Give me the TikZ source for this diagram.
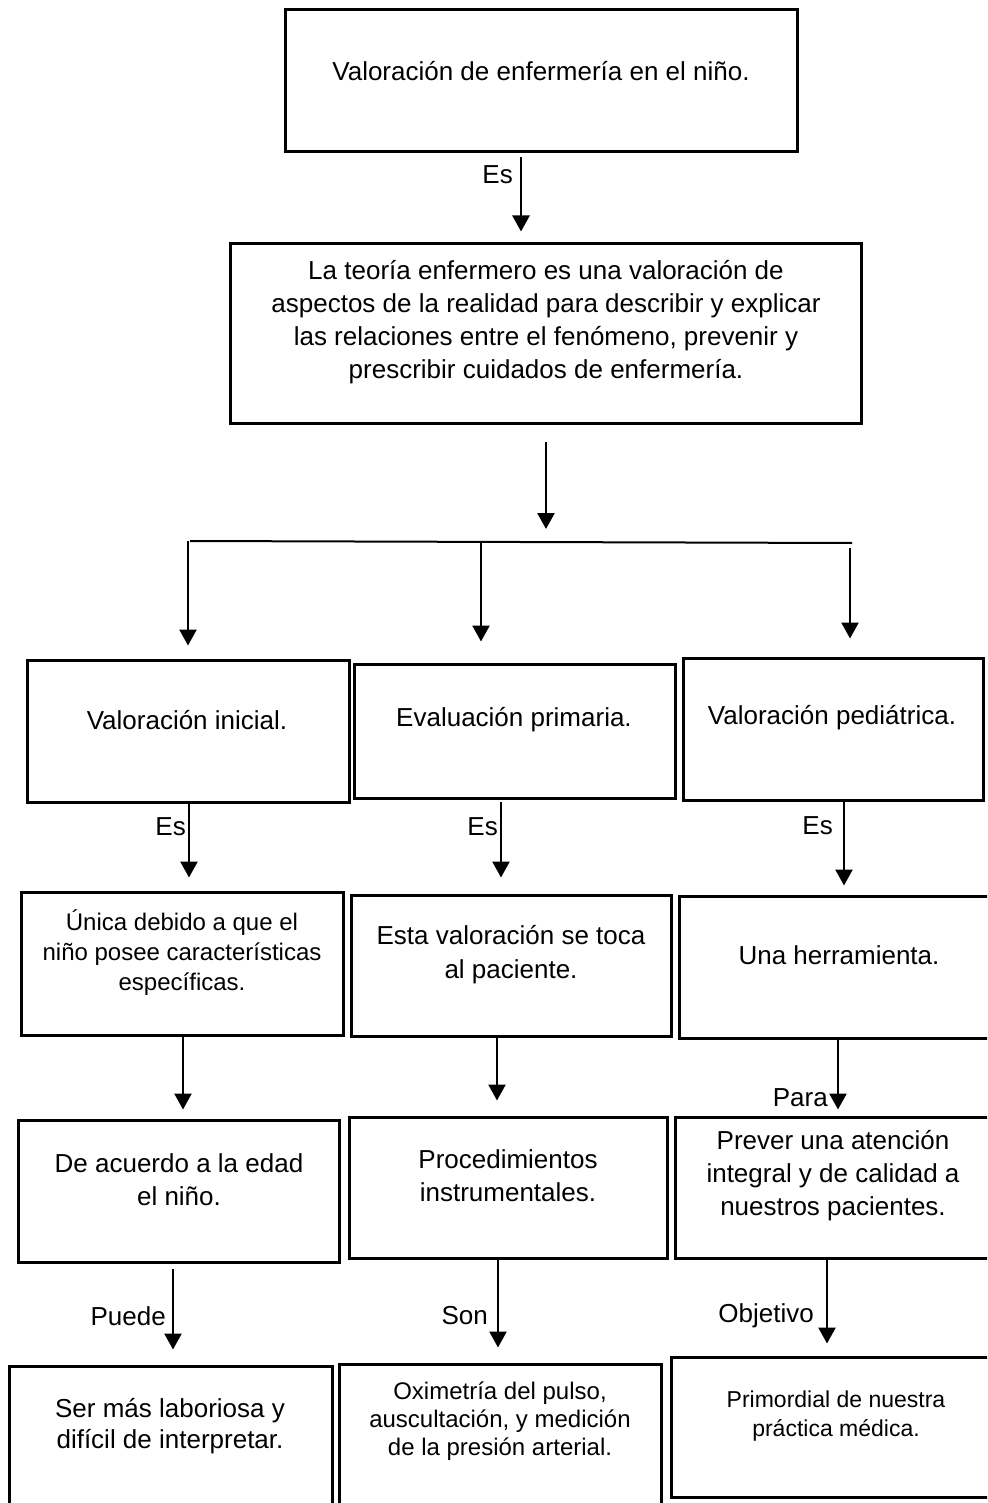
\documentclass[tikz,border=0pt]{standalone}
\usepackage{fontspec}
\setmainfont{Liberation Sans}
\usetikzlibrary{arrows.meta}
\begin{document}
\begin{tikzpicture}[x=1pt,y=-1pt,
  box/.style={draw=black, line width=3pt, inner sep=0pt},
  txt/.style={align=center, inner sep=0pt, text=black},
  big/.style={font=\fontsize{26}{33}\selectfont},
  lab/.style={anchor=east, inner sep=1pt, font=\fontsize{26}{31}\selectfont},
  arr/.style={draw=black, line width=2.5pt, -{Triangle[width=17pt,length=16pt]}},
  plain/.style={draw=black, line width=2pt}
]
\useasboundingbox (0,0) rectangle (987,1503);
\clip (0,0) rectangle (987,1503);

% boxes
\node[box, minimum width=512pt, minimum height=142pt] (A) at (541,81) {};
\node[box, minimum width=631pt, minimum height=179pt] (B) at (545.5,333.5) {};
\node[box, minimum width=322pt, minimum height=142pt] (C1) at (188,731) {};
\node[box, minimum width=321pt, minimum height=134pt] (C2) at (514.5,731) {};
\node[box, minimum width=300pt, minimum height=142pt] (C3) at (833,729) {};
\node[box, minimum width=322pt, minimum height=143pt] (D1) at (182,963.5) {};
\node[box, minimum width=320pt, minimum height=141pt] (D2) at (511,965.5) {};
\node[box, minimum width=321pt, minimum height=142pt] (D3) at (839.5,967) {};
\node[box, minimum width=321pt, minimum height=142pt] (E1) at (178.5,1191) {};
\node[box, minimum width=318pt, minimum height=141pt] (E2) at (508,1187.5) {};
\node[box, minimum width=325pt, minimum height=141pt] (E3) at (837.5,1187.5) {};
\node[box, minimum width=323pt, minimum height=154pt] (F1) at (170.5,1443) {};
\node[box, minimum width=322pt, minimum height=156pt] (F2) at (500,1442) {};
\node[box, minimum width=329pt, minimum height=140pt] (F3) at (835.5,1427) {};

% texts
\node[txt, big] (tA) at (541,71) {Valoración de enfermería en el niño.};
\node[txt, big] (tB) at (546,322.5) {La teoría enfermero es una valoración de\\aspectos de la realidad para describir y explicar\\las relaciones entre el fenómeno, prevenir y\\prescribir cuidados de enfermería.};
\node[txt, big] (tC1) at (187,720) {Valoración inicial.};
\node[txt, big] (tC2) at (514,720) {Evaluación primaria.};
\node[txt, big] (tC3) at (832,718) {Valoración pediátrica.};
\node[txt, font=\fontsize{24}{30}\selectfont] (tD1) at (182,952.5) {Única debido a que el\\niño posee características\\específicas.};
\node[txt, font=\fontsize{26}{34}\selectfont] (tD2) at (511,955) {Esta valoración se toca\\al paciente.};
\node[txt, big] (tD3) at (839,955) {Una herramienta.};
\node[txt, big] (tE1) at (179,1180) {De acuerdo a la edad\\el niño.};
\node[txt, big] (tE2) at (508,1176) {Procedimientos\\instrumentales.};
\node[txt, big] (tE3) at (833,1176) {Prever una atención\\integral y de calidad a\\nuestros pacientes.};
\node[txt, font=\fontsize{26}{31}\selectfont] (tF1) at (170,1426) {Ser más laboriosa y\\difícil de interpretar.};
\node[txt, font=\fontsize{24}{28}\selectfont] (tF2) at (500,1421) {Oximetría del pulso,\\auscultación, y medición\\de la presión arterial.};
\node[txt, font=\fontsize{23}{29}\selectfont] (tF3) at (836,1416) {Primordial de nuestra\\práctica médica.};

% x positions of connectors
\coordinate (k1) at (521,0);
\coordinate (k2) at (546,0);
\coordinate (k7) at (189,0);
\coordinate (k8) at (501,0);
\coordinate (k9) at (844,0);
\coordinate (k10) at (183,0);
\coordinate (k11) at (497,0);
\coordinate (k12) at (838,0);
\coordinate (k13) at (173,0);
\coordinate (k14) at (498,0);
\coordinate (k15) at (827,0);
\coordinate (hub) at (546,541);
\coordinate (hl) at (190,541);
\coordinate (hr) at (852,543);
\coordinate (b1) at (188,541);
\coordinate (b2) at (481,542);
\coordinate (b3) at (850,548);

% connectors
\draw[arr, shorten <=4pt, shorten >=11pt] (A.south -| k1) -- (B.north -| k1);
\draw[arr, shorten <=17pt, shorten >=12pt] (B.south -| k2) -- (hub);
\draw[plain] (hl) -- (hr);
\draw[arr, shorten >=13pt] (b1) -- (C1.north -| b1);
\draw[arr, shorten >=21pt] (b2) -- (C2.north -| b2);
\draw[arr, shorten >=18pt] (b3) -- (C3.north -| b3);
\draw[arr, shorten >=13pt] (C1.south -| k7) -- (D1.north -| k7);
\draw[arr, shorten <=2pt, shorten >=16pt] (C2.south -| k8) -- (D2.north -| k8);
\draw[arr, shorten >=9pt] (C3.south -| k9) -- (D3.north -| k9);
\draw[arr, shorten >=9pt] (D1.south -| k10) -- (E1.north -| k10);
\draw[arr, shorten >=15pt] (D2.south -| k11) -- (E2.north -| k11);
\draw[arr, shorten >=6pt] (D3.south -| k12) -- (E3.north -| k12);
\draw[arr, shorten <=5pt, shorten >=15pt] (E1.south -| k13) -- (F1.north -| k13);
\draw[arr, shorten >=15pt] (E2.south -| k14) -- (F2.north -| k14);
\draw[arr, shorten >=12pt] (E3.south -| k15) -- (F3.north -| k15);

% connector labels
\node[lab] (l1) at (514,175) {Es};
\node[lab] (l2) at (187,827) {Es};
\node[lab] (l3) at (499,827) {Es};
\node[lab] (l4) at (834,826) {Es};
\node[lab] (l5) at (829,1098) {Para};
\node[lab] (l6) at (167,1316) {Puede};
\node[lab] (l7) at (489,1316) {Son};
\node[lab] (l8) at (815,1316) {Objetivo};
\end{tikzpicture}
\end{document}
